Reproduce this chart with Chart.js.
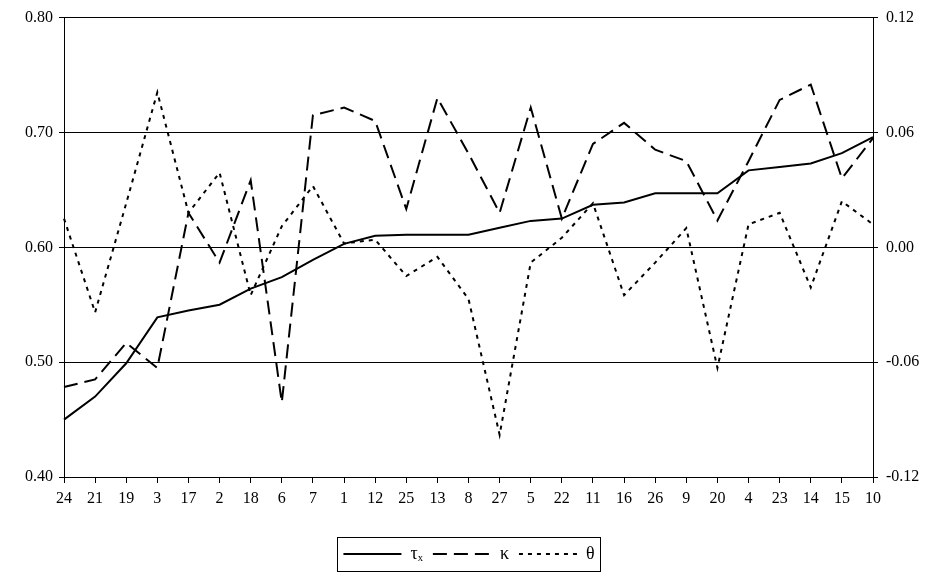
<!DOCTYPE html>
<html>
<head>
<meta charset="UTF-8">
<script src="https://cdn.jsdelivr.net/npm/chart.js"></script>
<style>
  body { margin: 0; background: #fff; }
  #wrap { width: 938px; height: 585px; }
</style>
</head>
<body>
<div id="wrap"><canvas id="c"></canvas></div>
<script>
const categories = ['24','21','19','3','17','2','18','6','7','1','12','25','13','8','27','5','22','11','16','26','9','20','4','23','14','15','10'];
const tauX = [0.450,0.470,0.499,0.539,0.545,0.550,0.564,0.574,0.589,0.603,0.610,0.611,0.611,0.611,0.617,0.623,0.625,0.637,0.639,0.647,0.647,0.647,0.667,0.670,0.673,0.682,0.696];
const kappa = [-0.073,-0.069,-0.050,-0.063,0.018,-0.008,0.035,-0.081,0.069,0.073,0.066,0.020,0.078,0.049,0.018,0.073,0.015,0.054,0.065,0.051,0.045,0.014,0.045,0.077,0.085,0.036,0.057];
const theta = [0.015,-0.034,0.023,0.081,0.018,0.039,-0.025,0.011,0.032,0.002,0.004,-0.015,-0.005,-0.027,-0.098,-0.008,0.005,0.023,-0.025,-0.008,0.010,-0.063,0.012,0.018,-0.021,0.024,0.012];

const font = { family: 'Liberation Serif', size: 16 };

// draw a frame around the legend items only
const legendBox = {
  id: 'legendBox',
  afterDraw(chart) {
    const l = chart.legend, ctx = chart.ctx;
    const hb = l.legendHitBoxes;
    if (!hb || !hb.length) return;
    const x0 = hb[0].left - 6, x1 = hb[hb.length - 1].left + hb[hb.length - 1].width + 6;
    const y0 = hb[0].top - 8, y1 = hb[0].top + hb[0].height + 8;
    ctx.save();
    ctx.strokeStyle = '#000';
    ctx.lineWidth = 1;
    ctx.strokeRect(Math.round(x0) + 0.5, Math.round(y0) + 0.5, Math.round(x1 - x0), Math.round(y1 - y0));
    ctx.restore();
  }
};

new Chart(document.getElementById('c'), {
  type: 'line',
  data: {
    labels: categories,
    datasets: [
      { label: 'τₓ', data: tauX, yAxisID: 'y', borderColor: '#000', borderWidth: 2, pointRadius: 0, tension: 0 },
      { label: 'κ', data: kappa, yAxisID: 'y1', borderColor: '#000', borderWidth: 2, borderDash: [14, 7], pointRadius: 0, tension: 0 },
      { label: 'θ', data: theta, yAxisID: 'y1', borderColor: '#000', borderWidth: 2, borderDash: [4, 5], pointRadius: 0, tension: 0 }
    ]
  },
  options: {
    responsive: true,
    maintainAspectRatio: false,
    animation: false,
    layout: { padding: { left: 0, right: 0, top: 17, bottom: 12 } },
    plugins: {
      legend: {
        position: 'bottom',
        labels: {
          color: '#000', font: { family: 'Liberation Serif', size: 18 }, usePointStyle: true, pointStyle: 'line',
          pointStyleWidth: 58, padding: 10,
          generateLabels(chart) {
            return chart.data.datasets.map((d, i) => ({
              text: d.label, strokeStyle: '#000', fillStyle: '#000', lineWidth: 2,
              lineDash: d.borderDash || [], pointStyle: 'line', datasetIndex: i, fontColor: '#000'
            }));
          }
        }
      },
      tooltip: { enabled: false }
    },
    scales: {
      x: {
        offset: false,
        afterFit(s) { s.height = 58; },
        grid: { display: true, drawOnChartArea: false, color: '#000', tickLength: 6 },
        border: { color: '#000' },
        ticks: { color: '#000', font: font, maxRotation: 0, autoSkip: false, padding: 6 }
      },
      y: {
        position: 'left', min: 0.40, max: 0.80,
        afterFit(s) { s.width = 64; },
        grid: { color: '#000', drawTicks: true, tickLength: 5 },
        border: { color: '#000' },
        ticks: { stepSize: 0.1, color: '#000', font: font, padding: 6, callback: v => v.toFixed(2) }
      },
      y1: {
        position: 'right', min: -0.12, max: 0.12,
        afterFit(s) { s.width = 65; },
        grid: { drawOnChartArea: false, color: '#000', tickLength: 5 },
        border: { color: '#000' },
        ticks: { stepSize: 0.06, color: '#000', font: font, padding: 8, callback: v => v.toFixed(2) }
      }
    }
  },
  plugins: [legendBox]
});
</script>
</body>
</html>
